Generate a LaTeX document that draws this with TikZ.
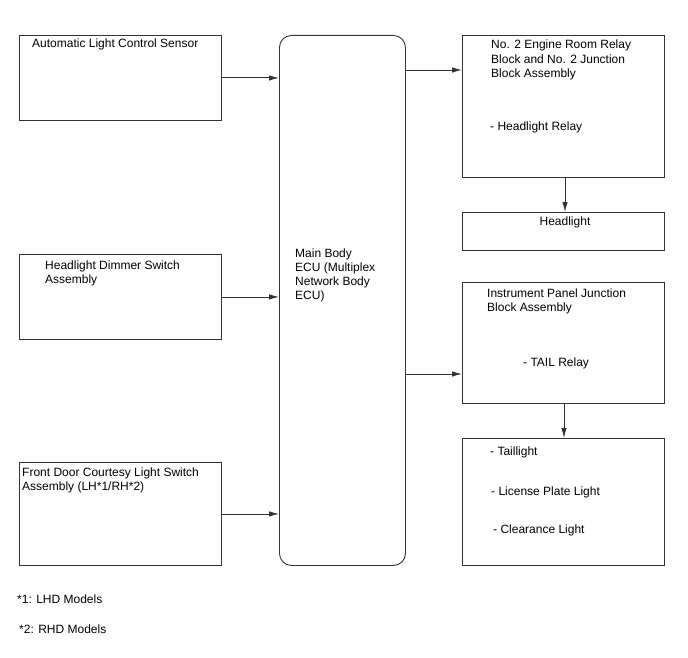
\documentclass[tikz,border=0pt]{standalone}
\usepackage{fontspec}
\setmainfont{Liberation Sans}
\usetikzlibrary{arrows.meta}
\definecolor{ln}{HTML}{333333}
\begin{document}
\begin{tikzpicture}[x=1pt,y=-1pt,
  box/.style={draw=ln,line width=0.9pt,rectangle,anchor=north west,inner sep=0pt},
  txt/.style={anchor=base west,inner sep=0pt,font=\fontsize{12}{14.3}\selectfont,align=left,text=black},
  arr/.style={draw=ln,line width=0.9pt,-{Latex[length=10pt,width=5.5pt]}}]
\useasboundingbox (0,0) rectangle (688,658);
% left boxes
\node[box,minimum width=202pt,minimum height=85pt] (A) at (19,35) {};
\node[box,minimum width=202pt,minimum height=85pt] (B) at (19,254) {};
\node[box,minimum width=202pt,minimum height=103pt] (C) at (19,462) {};
% ECU
\node[box,rounded corners=12pt,minimum width=126pt,minimum height=530pt] (ecu) at (279,35) {};
% right boxes
\node[box,minimum width=202pt,minimum height=142pt] (R1) at (462,35) {};
\node[box,minimum width=202pt,minimum height=38pt] (hl) at (462,212) {};
\node[box,minimum width=202pt,minimum height=121pt] (ip) at (462,282) {};
\node[box,minimum width=202pt,minimum height=127pt] (lt) at (462,438) {};
% texts (base anchor = baseline of last line)
\node[txt] (tA) at (32,48) {Automatic Light Control Sensor};
\node[txt] (tB) at (45,283.3) {Headlight Dimmer Switch\\Assembly};
\node[txt] (tC) at (22,490.3) {Front Door Courtesy Light Switch\\Assembly (LH*1/RH*2)};
\node[txt] (tE) at (295,299.9) {Main Body\\ECU (Multiplex\\Network Body\\ECU)};
\node[txt] (tR1) at (491,77.6) {No. 2 Engine Room Relay\\Block and No. 2 Junction\\Block Assembly};
\node[txt] (tR1b) at (490,131) {- Headlight Relay};
\node[txt,anchor=base] (thl) at (565,225) {Headlight};
\node[txt] (tip) at (487,311.3) {Instrument Panel Junction\\Block Assembly};
\node[txt] (tipb) at (523,366) {- TAIL Relay};
\node[txt] (tl1) at (490,455) {- Taillight};
\node[txt] (tl2) at (491,495) {- License Plate Light};
\node[txt] (tl3) at (493,533) {- Clearance Light};
\node[txt] (n1) at (17,603) {*1: LHD Models};
\node[txt] (n2) at (19,633) {*2: RHD Models};
% connectors
\draw[arr] (A.east) -- (A.east -| ecu.west);
\draw[arr] (B.east) -- (B.east -| ecu.west);
\draw[arr] (C.east) -- (C.east -| ecu.west);
\coordinate (e1) at (405,70);
\coordinate (e2) at (405,374);
\draw[arr] (e1) -- (e1 -| R1.west);
\draw[arr] (e2) -- (e2 -| ip.west);
\coordinate (v1) at (565,177);
\coordinate (v2) at (564,403);
\draw[arr] (v1) -- (v1 |- hl.north);
\draw[arr] (v2) -- (v2 |- lt.north);
\end{tikzpicture}
\end{document}
